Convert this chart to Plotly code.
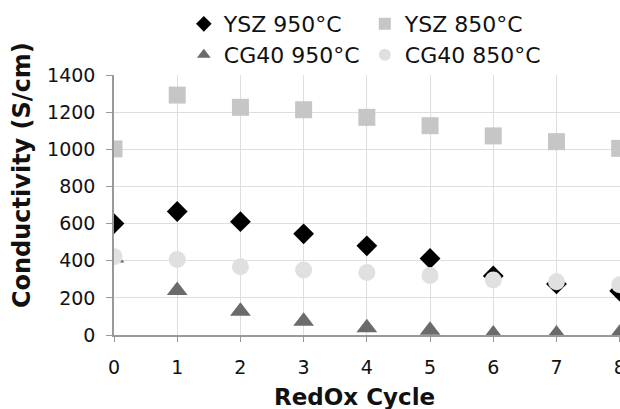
import plotly.graph_objects as go

cycles = [0, 1, 2, 3, 4, 5, 6, 7, 8]
ysz_950 = [600, 665, 610, 545, 480, 412, 318, 275, 237]
ysz_850 = [1002, 1292, 1226, 1213, 1172, 1127, 1072, 1041, 1005]
cg40_950 = [415, 240, 128, 74, 39, 26, 5, 5, 10]
cg40_850 = [422, 407, 368, 350, 336, 320, 296, 287, 270]
series_names = ["YSZ 950°C", "YSZ 850°C", "CG40 950°C", "CG40 850°C"]
y_ticks = [0, 200, 400, 600, 800, 1000, 1200, 1400]

FONT = "DejaVu Sans"

fig = go.Figure()
fig.add_trace(go.Scatter(x=cycles, y=ysz_950, mode="markers", name=series_names[0],
                         marker=dict(symbol="diamond", size=16, color="#000000", line=dict(width=0)),
                         legend="legend"))
fig.add_trace(go.Scatter(x=cycles, y=ysz_850, mode="markers", name=series_names[1],
                         marker=dict(symbol="square", size=17, color="#c6c6c6", line=dict(width=0)),
                         legend="legend"))
fig.add_trace(go.Scatter(x=cycles, y=cg40_950, mode="markers", name=series_names[2],
                         marker=dict(symbol="triangle-up", size=18, color="#6b6b6b", line=dict(width=0)),
                         legend="legend2"))
fig.add_trace(go.Scatter(x=cycles, y=cg40_850, mode="markers", name=series_names[3],
                         marker=dict(symbol="circle", size=17, color="#e0e0e0", line=dict(width=0)),
                         legend="legend2"))

leg_common = dict(orientation="h", xanchor="left", yanchor="middle",
                  font=dict(family=FONT, size=22, color="#111111"),
                  entrywidth=136, entrywidthmode="pixels", itemsizing="constant",
                  bgcolor="rgba(0,0,0,0)", borderwidth=0)

axis_common = dict(showline=True, linecolor="#999999", linewidth=1.5,
                   ticks="outside", tickcolor="#999999", tickwidth=1.2,
                   showgrid=True, gridcolor="#dedede", gridwidth=1, zeroline=False,
                   ticklabeloverflow="allow",
                   tickfont=dict(family=FONT, size=19, color="#111111"))

fig.update_layout(
    width=620, height=409,
    margin=dict(l=114, r=0, t=75, b=74, autoexpand=False),
    paper_bgcolor="white", plot_bgcolor="white",
    legend=dict(x=0.138, y=1.196, **leg_common),
    legend2=dict(x=0.138, y=1.077, **leg_common),
    xaxis=dict(range=[0, 8.005], tickvals=cycles, ticklen=5, ticklabelstandoff=9, **axis_common),
    yaxis=dict(range=[0, 1400], tickvals=y_ticks, ticklen=6, ticklabelstandoff=7, **axis_common),
    annotations=[
        dict(text="Conductivity (S/cm)", textangle=-90, xref="paper", yref="paper",
             x=-0.1818, y=0.615, xanchor="center", yanchor="middle", showarrow=False,
             font=dict(family=FONT, size=24, color="#111111", weight="bold")),
        dict(text="RedOx Cycle", xref="paper", yref="paper",
             x=0.476, y=-0.238, xanchor="center", yanchor="middle", showarrow=False,
             font=dict(family=FONT, size=23, color="#111111", weight="bold")),
    ],
)

fig.write_html("out.html", config={"displayModeBar": False},
               post_script="document.body.style.margin='0';document.body.style.overflow='hidden';")
